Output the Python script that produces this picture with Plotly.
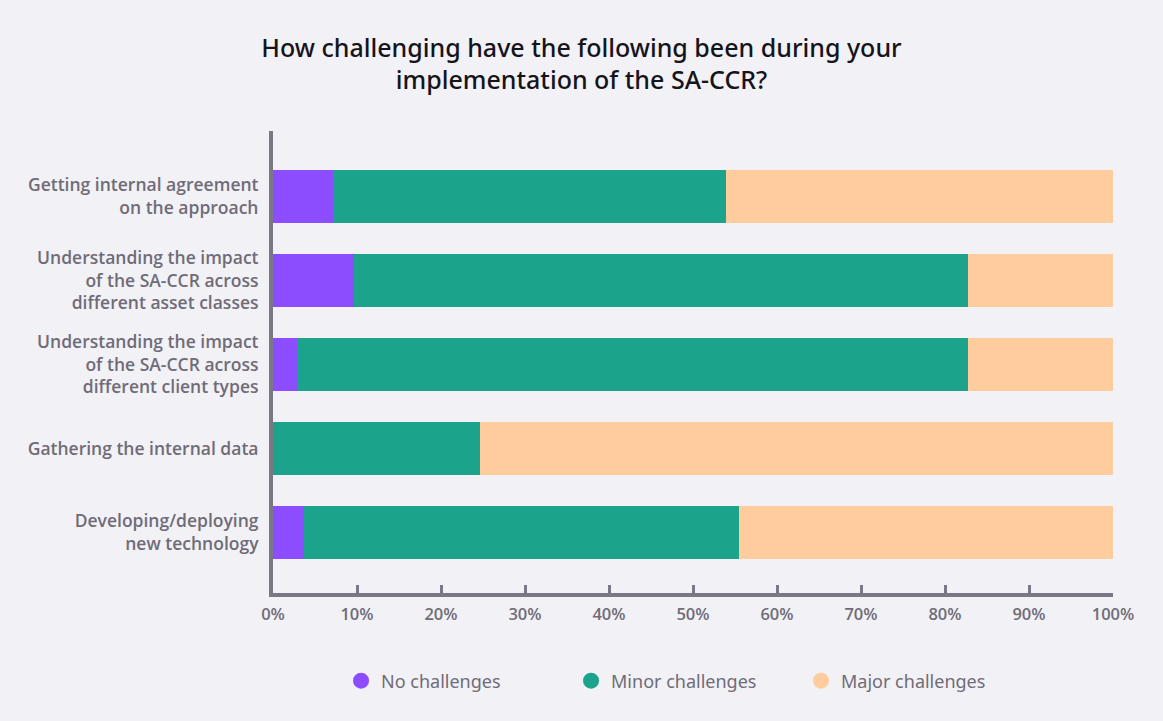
import plotly.graph_objects as go

categories = [
    "Getting internal agreement<br>on the approach",
    "Understanding the impact<br>of the SA-CCR across<br>different asset classes",
    "Understanding the impact<br>of the SA-CCR across<br>different client types",
    "Gathering the internal data",
    "Developing/deploying<br>new technology",
]
no_challenges = [7.2, 9.6, 2.8, 0.0, 3.7]
minor_challenges = [46.7, 73.1, 79.9, 24.6, 51.8]
major_challenges = [46.1, 17.3, 17.3, 75.4, 44.5]

series_names = ["No challenges", "Minor challenges", "Major challenges"]
series_values = [no_challenges, minor_challenges, major_challenges]
colors = ["#8B4DFF", "#1BA38C", "#FFCC9E"]

x_tick_vals = [0, 10, 20, 30, 40, 50, 60, 70, 80, 90, 100]
x_tick_text = [f"{v}%" for v in x_tick_vals]

BG = "#F2F1F6"
AXIS = "#7B7885"
LABEL = "#6F6C78"

fig = go.Figure()
for name, vals, col in zip(series_names, series_values, colors):
    fig.add_trace(go.Bar(
        y=categories, x=vals, orientation="h", name=name,
        marker=dict(color=col, line=dict(width=0)),
        showlegend=False,
        hovertemplate="%{y}: %{x:.1f}%<extra>" + name + "</extra>",
    ))
# legend entries with circular symbols
for name, col in zip(series_names, colors):
    fig.add_trace(go.Scatter(
        x=[None], y=[None], mode="markers", name=name,
        marker=dict(symbol="circle", size=20, color=col),
    ))

fig.update_layout(
    barmode="stack",
    bargap=0.37,
    width=1163, height=721,
    paper_bgcolor=BG, plot_bgcolor=BG,
    margin=dict(l=273, r=50, t=131, b=128),
    title=dict(
        text="How challenging have the following been during your<br>implementation of the SA-CCR?",
        x=0.5, xanchor="center", y=0.921, yanchor="middle",
        font=dict(family="Noto Sans", size=25, color="#15141A", weight=500),
    ),
    font=dict(family="Open Sans", color=LABEL),
    legend=dict(
        orientation="h", traceorder="normal",
        x=0.081, xanchor="left", y=-0.1905, yanchor="middle",
        font=dict(family="Noto Sans", size=18, color=LABEL),
        entrywidth=185, entrywidthmode="pixels",
        bgcolor="rgba(0,0,0,0)",
    ),
    xaxis=dict(
        range=[0, 100], tickvals=x_tick_vals, ticktext=x_tick_text,
        showgrid=False, zeroline=False,
        showline=True, linecolor=AXIS, linewidth=4,
        ticks="inside", ticklen=8, tickwidth=3, tickcolor=AXIS,
        tickfont=dict(family="Open Sans", size=16.5, color=LABEL, weight=600),
        ticklabelstandoff=3,
        fixedrange=True,
    ),
    yaxis=dict(
        categoryorder="array", categoryarray=categories,
        range=[4.72, -0.78],
        showgrid=False, zeroline=False,
        showline=True, linecolor=AXIS, linewidth=4,
        ticks="", ticklabelstandoff=7,
        tickfont=dict(family="Open Sans", size=17.5, color=LABEL, weight=600),
        fixedrange=True,
    ),
)

fig.write_html(
    "out.html",
    config={"displayModeBar": False},
    post_script="document.body.style.margin='0';",
)
